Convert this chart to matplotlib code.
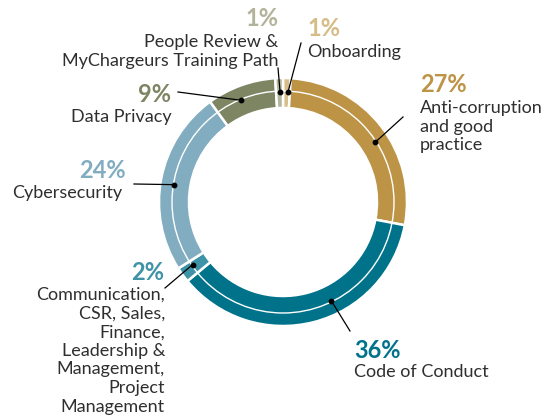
import matplotlib
matplotlib.use("Agg")
from matplotlib import pyplot as plt
from matplotlib.patches import Circle
import numpy as np

# training hours share by topic, clockwise from 12 o'clock
topics = ["Onboarding", "Anti-corruption\nand good\npractice", "Code of Conduct",
          "Communication,\nCSR, Sales,\nFinance,\nLeadership &\nManagement,\nProject\nManagement",
          "Cybersecurity", "Data Privacy", "People Review &\nMyChargeurs Training Path"]
shares = [1, 27, 36, 2, 24, 9, 1]
colors = ["#d8bd8a", "#bd9446", "#00738b", "#3e93a7", "#82adc0", "#7d8563", "#b3b59c"]
pct_colors = ["#d6bc87", "#bd9446", "#00738b", "#3e93a7", "#82adc0", "#7d8563", "#b2b39a"]

W, H = 546, 420
CX, CY, R = 283, H - 202, 124
RING = 30
R_DOT = 110

plt.rcParams['font.family'] = ['Lato', 'DejaVu Sans']
fig = plt.figure(figsize=(W / 100, H / 100), dpi=100)
ax = fig.add_axes([0, 0, 1, 1])

wedges, _ = ax.pie(shares, colors=colors, startangle=90, counterclock=False,
                   center=(CX, CY), radius=R,
                   wedgeprops=dict(width=RING, edgecolor="white", linewidth=1.8))
ax.add_patch(Circle((CX, CY), R_DOT + 1, fill=False, edgecolor="white", lw=1.0))

ax.set_xlim(0, W)
ax.set_ylim(0, H)
ax.set_aspect("auto")
ax.axis("off")

# layout: where the dot sits inside each wedge (clockwise fraction),
# leader end, text anchors (image px, y down)
dot_frac = [0.72, 0.55, 0.41, 0.68, 0.48, 0.42, 0.58]
leader_end = [(301, 43), (403, 117), (350, 331), (165, 288), (134, 184), (178, 92), (278, 68)]
pct_pos = [(307, 29, "left"), (420, 85, "left"), (354, 350, "left"), (164, 273, "right"),
           (126, 170, "right"), (171, 94, "right"), (278, 18, "right")]
lab_pos = [(307, 52), (420, 108), (354, 372), (165, 295), (122, 193), (172, 117), (278, 42)]

dark = "#2f2f2f"
for i, w in enumerate(wedges):
    # clockwise wedges start at theta2
    t = np.deg2rad(w.theta2 - dot_frac[i] * (w.theta2 - w.theta1))
    dx, dy = CX + R_DOT * np.cos(t), CY + R_DOT * np.sin(t)
    ex, ey = leader_end[i]
    ax.plot([dx, ex], [dy, H - ey], color="black", lw=0.9)
    ax.plot(dx, dy, "o", color="black", ms=3.2)

    px, py, ha = pct_pos[i]
    ax.text(px, H - py, f"{shares[i]}%", color=pct_colors[i], fontsize=17,
            fontweight="bold", ha=ha, va="center")
    lx, ly = lab_pos[i]
    ax.text(lx, H - ly + 8, topics[i], color=dark, fontsize=13, ha=ha, va="top",
            linespacing=1.2)

fig.savefig("out.png", dpi=100)
